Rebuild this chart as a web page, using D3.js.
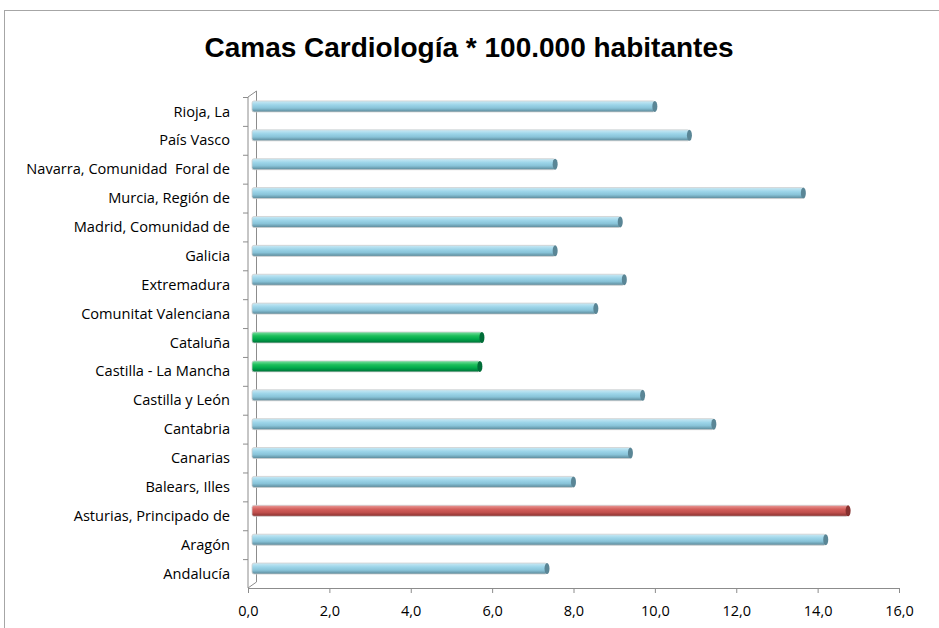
<!DOCTYPE html>
<html>
<head>
<meta charset="utf-8">
<script src="https://cdn.jsdelivr.net/npm/d3@7"></script>
<style>
  body { margin: 0; background: #fff; }
  text { font-family: "Open Sans", "Liberation Sans", sans-serif; fill: #000; }
</style>
</head>
<body>
<script>
// data (bottom -> top as in the chart)
var regions = ["Andalucía", "Aragón", "Asturias, Principado de", "Balears, Illes", "Canarias",
    "Cantabria", "Castilla y León", "Castilla - La Mancha", "Cataluña", "Comunitat Valenciana",
    "Extremadura", "Galicia", "Madrid, Comunidad de", "Murcia, Región de",
    "Navarra, Comunidad  Foral de", "País Vasco", "Rioja, La"];
var camas = [7.3, 14.15, 14.7, 7.95, 9.35, 11.4, 9.65, 5.65, 5.7, 8.5,
    9.2, 7.5, 9.1, 13.6, 7.5, 10.8, 9.95];
var highlight = ["blue", "blue", "red", "blue", "blue", "blue", "blue", "green", "green", "blue",
    "blue", "blue", "blue", "blue", "blue", "blue", "blue"];
var xTicks = [0, 2, 4, 6, 8, 10, 12, 14, 16];

var W = 939, H = 628;
var plotLeft = 248, plotRight = 899, plotTop = 97, plotBottom = 588;
var dx = 4, dy = -5, depth = 8.5; // fake 3d offset

var svg = d3.select("body").append("svg")
    .attr("width", W)
    .attr("height", H);

// gradients for the cylinder bars
var colors = {
  blue: ["#cbeaf5", "#9dd5e9", "#88c3d8", "#5a8696"],
  red: ["#ea9c9a", "#d45f5b", "#c0504d", "#86302e"],
  green: ["#80e0a5", "#1dbf5b", "#00a84a", "#006d38"]
};
var defs = svg.append("defs");
Object.keys(colors).forEach(function(k) {
  var g = defs.append("linearGradient").attr("id", "g-" + k)
      .attr("x1", 0).attr("y1", 0).attr("x2", 0).attr("y2", 1);
  var c = colors[k];
  g.append("stop").attr("offset", "0%").attr("stop-color", c[0]);
  g.append("stop").attr("offset", "35%").attr("stop-color", c[1]);
  g.append("stop").attr("offset", "65%").attr("stop-color", c[2]);
  g.append("stop").attr("offset", "100%").attr("stop-color", c[3]);
});

// chart border
svg.append("rect")
    .attr("x", 4.5).attr("y", 10.5)
    .attr("width", 1000).attr("height", 700)
    .attr("fill", "none")
    .attr("stroke", "#a6a6a6");

svg.append("text")
    .attr("x", 469).attr("y", 57)
    .attr("text-anchor", "middle")
    .style("font-family", "'Liberation Sans', sans-serif")
    .style("font-size", "28px")
    .style("font-weight", "bold")
    .text("Camas Cardiología * 100.000 habitantes");

var x = d3.scaleLinear().domain([0, 16]).range([plotLeft, plotRight]);
var y = d3.scaleBand().domain(regions.slice().reverse()).range([plotTop, plotBottom]);

// 3d wall lines
var axisColor = "#8c8c8c";
svg.append("line").attr("x1", plotLeft + depth).attr("x2", plotLeft + depth)
    .attr("y1", plotTop - 6).attr("y2", plotBottom - 6).attr("stroke", axisColor);
svg.append("line").attr("x1", plotLeft).attr("x2", plotLeft + depth)
    .attr("y1", plotBottom).attr("y2", plotBottom - 6).attr("stroke", axisColor);
svg.append("line").attr("x1", plotLeft).attr("x2", plotLeft + depth)
    .attr("y1", plotTop).attr("y2", plotTop - 6).attr("stroke", axisColor);

// x axis
var xAxis = d3.axisBottom(x).tickValues(xTicks).tickSize(5).tickPadding(13)
    .tickFormat(function(d) { return d3.format(".1f")(d).replace(".", ","); });
var gx = svg.append("g")
    .attr("transform", "translate(0," + plotBottom + ")")
    .call(xAxis);
gx.select(".domain").attr("stroke", axisColor);
gx.selectAll(".tick line").attr("stroke", axisColor);
gx.selectAll(".tick text").style("font-size", "14.5px")
    .style("font-family", "'Open Sans', sans-serif");

// y axis (ticks at band edges)
var gy = svg.append("g").attr("transform", "translate(" + plotLeft + ",0)");
gy.append("line").attr("y1", plotTop).attr("y2", plotBottom).attr("stroke", axisColor);
gy.selectAll(".tk")
    .data(regions)
  .enter().append("line")
    .attr("x1", -5).attr("x2", 0)
    .attr("y1", function(d) { return y(d) + 0.5; })
    .attr("y2", function(d) { return y(d) + 0.5; })
    .attr("stroke", axisColor);
gy.selectAll(".lbl")
    .data(regions)
  .enter().append("text")
    .attr("x", -18)
    .attr("y", function(d) { return y(d) + y.bandwidth() / 2; })
    .attr("dy", "0.35em")
    .attr("text-anchor", "end")
    .style("font-size", "14.6px")
    .style("white-space", "pre")
    .text(function(d) { return d; });

// bars
var bh = 11;
var bars = svg.selectAll(".bar")
    .data(regions)
  .enter().append("g")
    .attr("class", "bar");

bars.append("rect")
    .attr("x", x(0) + dx)
    .attr("y", function(d) { return y(d) + y.bandwidth() / 2 + dy - bh / 2; })
    .attr("width", function(d, i) { return x(camas[i]) - x(0) - 2; })
    .attr("height", bh)
    .attr("rx", 2)
    .attr("fill", function(d, i) { return "url(#g-" + highlight[i] + ")"; })
    .attr("stroke", "#cfcfcf")
    .attr("stroke-width", 0.8);

bars.append("ellipse")
    .attr("cx", function(d, i) { return x(camas[i]) + dx - 2; })
    .attr("cy", function(d) { return y(d) + y.bandwidth() / 2 + dy; })
    .attr("rx", 2.5)
    .attr("ry", bh / 2)
    .attr("fill", function(d, i) { return colors[highlight[i]][3]; });
</script>
</body>
</html>
